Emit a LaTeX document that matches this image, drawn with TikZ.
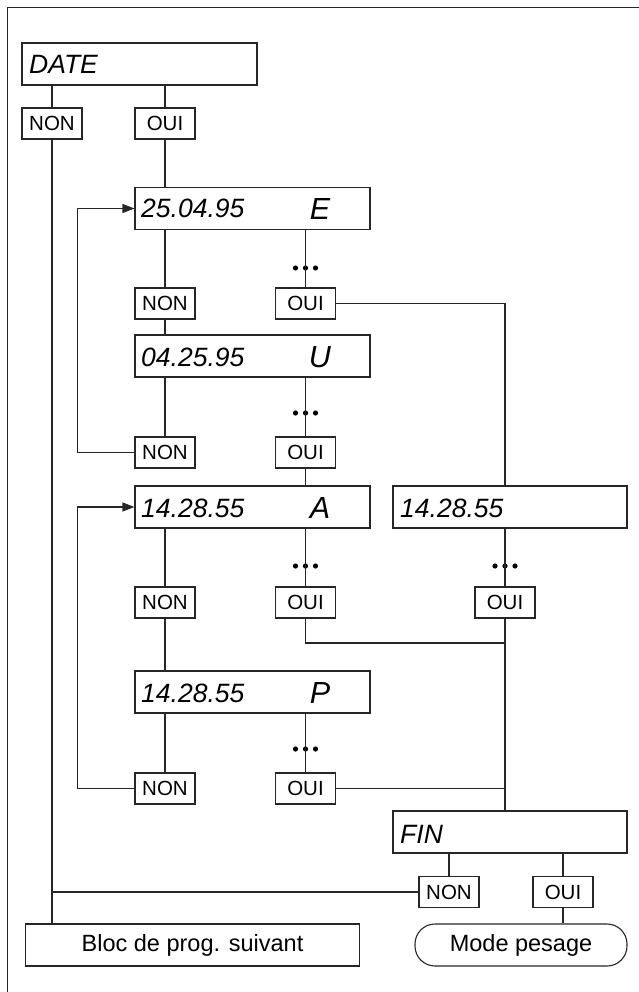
\documentclass[tikz,border=0pt]{standalone}
\usepackage{fontspec}
\setmainfont{Liberation Sans}
\usetikzlibrary{arrows.meta,calc}
\tikzset{
  ln/.style={draw=black!85, line width=1.1pt},
  bigbox/.style={ln, rectangle, minimum width=235pt, minimum height=42pt, inner sep=0pt},
  smallbox/.style={ln, rectangle, minimum width=60pt, minimum height=31pt, inner sep=0pt, font=\fontsize{20.5}{20.5}\selectfont},
  dtxt/.style={anchor=base west, inner sep=0pt, font=\fontsize{26.5}{26.5}\selectfont\itshape},
  ltxt/.style={anchor=base, inner sep=0pt, font=\fontsize{30.5}{30.5}\selectfont\itshape},
  dotc/.style={inner sep=0pt, minimum size=0pt},
  arr/.style={ln, -{Triangle[length=12pt,width=9pt]}},
}
\newcommand{\threedots}[1]{\fill[black] ($(#1)+(-10,0)$) circle (2.6) (#1) circle (2.6) ($(#1)+(10,0)$) circle (2.6);}
\begin{document}
\begin{tikzpicture}[x=1pt,y=-1pt]
\useasboundingbox (0,0) rectangle (639,992);
% frame
\draw[ln] (7.5,992) -- (7.5,7.5) -- (639,7.5);

% big boxes
\node[bigbox] (date) at (139.5,64) {};
\node[dtxt] (datet) at (29,74) {DATE};
\node[smallbox] (non0) at (52,123.5) {NON};
\node[smallbox] (oui0) at (165,123.5) {OUI};

\node[bigbox] (e1) at (252.5,208.5) {};
\node[dtxt] (e1t) at (141,218) {25.04.95};
\node[ltxt] (e1l) at (320,219) {E};
\node[dotc] (dE) at (305.5,268) {};
\node[smallbox] (nonE) at (165,303.5) {NON};
\node[smallbox] (ouiE) at (305.5,303.5) {OUI};

\node[bigbox] (u) at (252.5,356) {};
\node[dtxt] (ut) at (141,366) {04.25.95};
\node[ltxt] (ul) at (320,367) {U};
\node[dotc] (dU) at (305.5,413) {};
\node[smallbox] (nonU) at (165,452.5) {NON};
\node[smallbox] (ouiU) at (305.5,452.5) {OUI};

\node[bigbox] (a) at (252.5,507) {};
\node[dtxt] (at) at (141,517) {14.28.55};
\node[ltxt] (al) at (320,518) {A};
\node[dotc] (dA) at (305.5,566) {};
\node[smallbox] (nonA) at (165,602.5) {NON};
\node[smallbox] (ouiA) at (305.5,602.5) {OUI};

\node[bigbox, minimum width=234pt] (r) at (510,507) {};
\node[dtxt] (rt) at (400,517) {14.28.55};
\node[dotc] (dR) at (505,566) {};
\node[smallbox] (ouiR) at (505,602.5) {OUI};
\coordinate (jA) at (505,643);

\node[bigbox] (p) at (252.5,692) {};
\node[dtxt] (pt) at (141,702) {14.28.55};
\node[ltxt] (pl) at (320,703) {P};
\node[dotc] (dP) at (305.5,749) {};
\node[smallbox] (nonP) at (165,788.5) {NON};
\node[smallbox] (ouiP) at (305.5,788.5) {OUI};

\node[bigbox, minimum width=234pt] (fin) at (510,832) {};
\node[dtxt] (fint) at (400,843) {FIN};
\node[smallbox] (nonF) at (449,892) {NON};
\node[smallbox] (ouiF) at (563,892) {OUI};

\node[ln, rectangle, minimum width=334pt, minimum height=42pt, inner sep=0pt, font=\fontsize{23.5}{23.5}\selectfont] (bloc) at (192.5,945) {Bloc de prog. suivant};
\node[ln, rectangle, rounded corners=20pt, minimum width=212pt, minimum height=42pt, inner sep=0pt, font=\fontsize{23.5}{23.5}\selectfont] (mode) at (521,945) {Mode pesage};

% dots
\threedots{dE}
\threedots{dU}
\threedots{dA}
\threedots{dR}
\threedots{dP}

% connectors
\draw[ln] (date.south -| non0) -- (non0.north);
\draw[ln] (date.south -| oui0) -- (oui0.north);
\draw[ln] (oui0.south) -- (oui0.south |- e1.north);
\draw[ln] (non0.south) -- (non0.south |- bloc.north);
\draw[ln] (nonF.west) -- (nonF.west -| non0);

\draw[ln] (e1.south -| nonE) -- (nonE.north);
\draw[ln] (e1.south -| dE) -- ([yshift=-21pt]dE.center);
\draw[ln] (dE.center) -- (ouiE.north);
\draw[ln] (nonE.south) -- (nonE.south |- u.north);
\draw[ln] (ouiE.east) -| (ouiR |- r.north);

\draw[ln] (u.south -| nonU) -- (nonU.north);
\draw[ln] (u.south -| dU) -- ([yshift=-19pt]dU.center);
\draw[ln] (dU.center) -- (ouiU.north);
\draw[arr] (nonU.west) -| ([xshift=-57pt]e1.west) -- (e1.west);
\draw[ln] (ouiU.south) -- (ouiU.south |- a.north);

\draw[ln] (a.south -| nonA) -- (nonA.north);
\draw[ln] (a.south -| dA) -- ([yshift=-19pt]dA.center);
\draw[ln] (dA.center) -- (ouiA.north);
\draw[ln] (ouiA.south) |- (jA);

\draw[ln] (r.south -| dR) -- ([yshift=-19pt]dR.center);
\draw[ln] (dR.center) -- (ouiR.north);
\draw[ln] (ouiR.south) -- (ouiR.south |- fin.north);

\draw[ln] (nonA.south) -- (nonA.south |- p.north);
\draw[ln] (p.south -| nonP) -- (nonP.north);
\draw[ln] (p.south -| dP) -- ([yshift=-19pt]dP.center);
\draw[ln] (dP.center) -- (ouiP.north);
\draw[arr] (nonP.west) -| ([xshift=-57pt]a.west) -- (a.west);
\draw[ln] (ouiP.east) -- (ouiP.east -| ouiR);

\draw[ln] (fin.south -| nonF) -- (nonF.north);
\draw[ln] (fin.south -| ouiF) -- (ouiF.north);
\draw[ln] (ouiF.south) -- (ouiF.south |- mode.north);
\end{tikzpicture}
\end{document}
